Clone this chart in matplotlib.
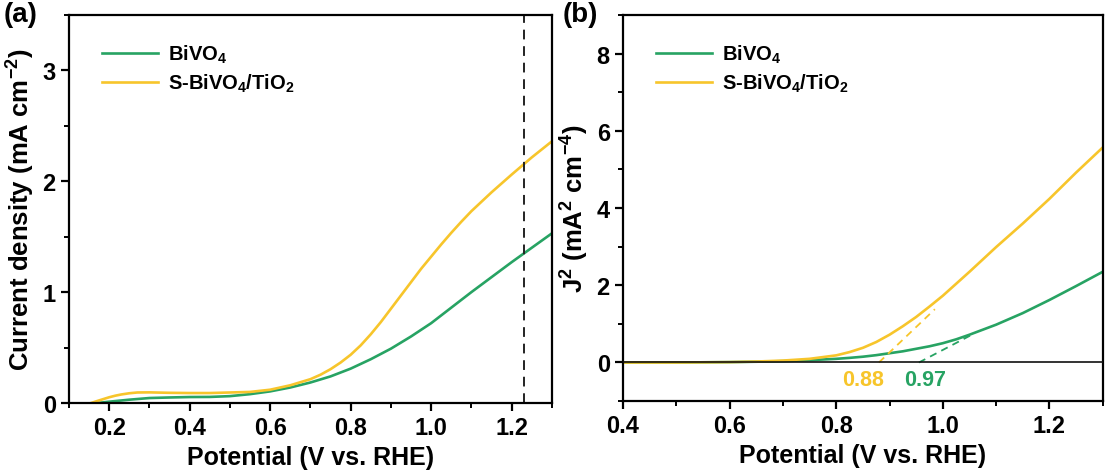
import matplotlib
matplotlib.use("Agg")
import matplotlib.pyplot as plt
from matplotlib.ticker import MultipleLocator

plt.rcParams['font.family'] = ['Liberation Sans', 'DejaVu Sans']
plt.rcParams['font.weight'] = 'bold'
plt.rcParams['axes.labelweight'] = 'bold'
plt.rcParams['mathtext.fontset'] = 'custom'
plt.rcParams['mathtext.rm'] = 'Liberation Sans:bold'
plt.rcParams['mathtext.bf'] = 'Liberation Sans:bold'
plt.rcParams['mathtext.it'] = 'Liberation Sans:bold:italic'

GREEN = '#27a363'
YELLOW = '#f7c52b'

# (a) LSV curves, current density vs potential
V_bv = [0.17, 0.2, 0.25, 0.3, 0.35, 0.4, 0.45, 0.5, 0.55, 0.6, 0.65, 0.7, 0.75,
        0.8, 0.85, 0.9, 0.95, 1.0, 1.05, 1.1, 1.15, 1.2, 1.25, 1.3]
J_bv = [0.0, 0.012, 0.03, 0.045, 0.05, 0.054, 0.055, 0.062, 0.08, 0.105, 0.14,
        0.185, 0.24, 0.31, 0.395, 0.49, 0.6, 0.72, 0.86, 1.0, 1.135, 1.27, 1.40,
        1.53]

V_s = [0.155, 0.17, 0.185, 0.2, 0.215, 0.23, 0.25, 0.27, 0.3, 0.35, 0.4, 0.45,
       0.5, 0.55, 0.6, 0.65, 0.7, 0.725, 0.75, 0.775, 0.8, 0.825, 0.85, 0.875,
       0.9, 0.925, 0.95, 0.975, 1.0, 1.025, 1.05, 1.075, 1.1, 1.15, 1.2, 1.25,
       1.3]
J_s = [0.0, 0.018, 0.035, 0.052, 0.066, 0.077, 0.088, 0.095, 0.096, 0.092, 0.09,
       0.09, 0.095, 0.10, 0.12, 0.16, 0.215, 0.255, 0.305, 0.365, 0.435, 0.52,
       0.62, 0.73, 0.85, 0.97, 1.09, 1.21, 1.32, 1.43, 1.535, 1.635, 1.73, 1.90,
       2.06, 2.215, 2.36]

# (b) J^2 vs potential
V_b = [0.4, 0.5, 0.6, 0.65, 0.7, 0.75, 0.8, 0.825, 0.85, 0.875, 0.9, 0.925,
       0.95, 0.975, 1.0, 1.025, 1.05, 1.075, 1.1, 1.15, 1.2, 1.25, 1.3]
J2_bv = [0.0, 0.0, 0.01, 0.02, 0.035, 0.06, 0.095, 0.12, 0.15, 0.19, 0.24,
         0.29, 0.355, 0.42, 0.5, 0.6, 0.72, 0.85, 0.98, 1.28, 1.62, 1.98, 2.35]
J2_s = [0.0, 0.0, 0.01, 0.025, 0.05, 0.095, 0.185, 0.27, 0.38, 0.53, 0.72,
        0.94, 1.18, 1.45, 1.73, 2.04, 2.35, 2.67, 2.99, 3.6, 4.24, 4.92, 5.57]

# onset tangents (start, end) and onset labels
tan_s_x = [0.88, 0.985]
tan_s_y = [0.0, 1.38]
tan_bv_x = [0.955, 1.06]
tan_bv_y = [0.0, 0.76]
onset_s = "0.88"
onset_bv = "0.97"

labels = ["BiVO$_4$", "S-BiVO$_4$/TiO$_2$"]

fig = plt.figure(figsize=(11.05, 4.77), dpi=100)
ax1 = fig.add_axes([0.0624, 0.153, 0.437, 0.8135])
ax2 = fig.add_axes([0.5638, 0.157, 0.4342, 0.8095])


def style(ax):
    for sp in ax.spines.values():
        sp.set_linewidth(1.6)
    ax.tick_params(which='major', direction='out', length=5.5, width=1.6,
                   labelsize=17, pad=4)
    ax.tick_params(which='minor', direction='out', length=3.5, width=1.4)
    ax.tick_params(top=False, right=False)
    for lab in ax.get_xticklabels() + ax.get_yticklabels():
        lab.set_fontweight('bold')


# panel (a)
ax1.plot(V_bv, J_bv, color=GREEN, lw=1.9, label=labels[0])
ax1.plot(V_s, J_s, color=YELLOW, lw=1.9, label=labels[1])
ax1.axvline(1.23, color='#222222', lw=1.4, ls=(0, (5, 3.5)))
ax1.set_xlim(0.1, 1.3)
ax1.set_ylim(0, 3.5)
ax1.set_xticks([0.2, 0.4, 0.6, 0.8, 1.0, 1.2])
ax1.set_xticklabels(["0.2", "0.4", "0.6", "0.8", "1.0", "1.2"])
ax1.set_yticks([0, 1, 2, 3])
ax1.set_yticklabels(["0", "1", "2", "3"])
ax1.xaxis.set_minor_locator(MultipleLocator(0.1))
ax1.yaxis.set_minor_locator(MultipleLocator(0.5))
style(ax1)
ax1.set_xlabel("Potential (V vs. RHE)", fontsize=18, labelpad=4)
ax1.set_ylabel("Current density (mA cm$^{-2}$)", fontsize=18.5, labelpad=4)
ax1.legend(loc='upper left', bbox_to_anchor=(0.03, 0.975), frameon=False,
           fontsize=14.5, handlelength=2.8, handletextpad=0.5, labelspacing=0.35)

# panel (b)
ax2.axhline(0, color='#111111', lw=1.2, zorder=3)
ax2.plot(V_b, J2_bv, color=GREEN, lw=1.9, label=labels[0])
ax2.plot(V_b, J2_s, color=YELLOW, lw=1.9, label=labels[1])
ax2.plot(tan_s_x, tan_s_y, color=YELLOW, lw=1.3, ls=(0, (4, 3)))
ax2.plot(tan_bv_x, tan_bv_y, color=GREEN, lw=1.3, ls=(0, (4, 3)))
ax2.text(0.85, -0.45, onset_s, color=YELLOW, fontsize=15.5, fontweight='bold',
         ha='center', va='center')
ax2.text(0.967, -0.45, onset_bv, color=GREEN, fontsize=15.5, fontweight='bold',
         ha='center', va='center')
ax2.set_xlim(0.4, 1.3)
ax2.set_ylim(-1, 9)
ax2.set_xticks([0.4, 0.6, 0.8, 1.0, 1.2])
ax2.set_xticklabels(["0.4", "0.6", "0.8", "1.0", "1.2"])
ax2.set_yticks([0, 2, 4, 6, 8])
ax2.set_yticklabels(["0", "2", "4", "6", "8"])
ax2.xaxis.set_minor_locator(MultipleLocator(0.1))
ax2.yaxis.set_minor_locator(MultipleLocator(1))
style(ax2)
ax2.set_xlabel("Potential (V vs. RHE)", fontsize=18, labelpad=4)
ax2.set_ylabel("J$^2$ (mA$^2$ cm$^{-4}$)", fontsize=18.5, labelpad=4)
ax2.legend(loc='upper left', bbox_to_anchor=(0.03, 0.975), frameon=False,
           fontsize=14.5, handlelength=2.8, handletextpad=0.5, labelspacing=0.35)

fig.text(0.003, 0.995, "(a)", fontsize=20, fontweight='bold', ha='left', va='top')
fig.text(0.509, 0.995, "(b)", fontsize=20, fontweight='bold', ha='left', va='top')

fig.savefig("out.png", dpi=100)
